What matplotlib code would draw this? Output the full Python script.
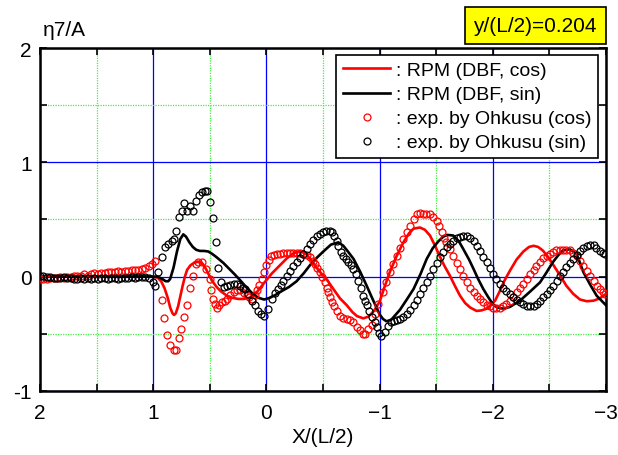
import matplotlib
matplotlib.use("Agg")
import matplotlib.pyplot as plt
from matplotlib.ticker import MultipleLocator, FixedLocator

plt.rcParams['font.family'] = ['Liberation Sans', 'DejaVu Sans']

# ---------------- data ----------------
# RPM (DBF, cos) line
rpm_cos_x = [2.0, 1.5, 1.2, 1.05, 1.0, 0.96, 0.93, 0.90, 0.87, 0.85, 0.83, 0.815, 0.80, 0.78, 0.76,
             0.74, 0.72, 0.70, 0.67, 0.64, 0.61, 0.587, 0.56, 0.53, 0.50, 0.47, 0.44, 0.40, 0.35,
             0.30, 0.25, 0.20, 0.15, 0.12, 0.08, 0.04, 0.0, -0.05, -0.12, -0.18, -0.24, -0.30,
             -0.35, -0.40, -0.45, -0.50, -0.53, -0.60, -0.65, -0.71, -0.76, -0.80, -0.856, -0.90,
             -0.95, -1.0, -1.04, -1.09, -1.15, -1.21, -1.26, -1.30, -1.357, -1.40, -1.445, -1.49,
             -1.53, -1.575, -1.62, -1.665, -1.71, -1.755, -1.80, -1.857, -1.90, -1.946, -2.02,
             -2.06, -2.10, -2.15, -2.21, -2.27, -2.32, -2.36, -2.40, -2.44, -2.475, -2.53, -2.594,
             -2.65, -2.71, -2.77, -2.83, -2.89, -2.945, -3.0]
rpm_cos_y = [0.0, 0.0, 0.0, 0.0, 0.0, -0.01, -0.04, -0.10, -0.19, -0.27, -0.32, -0.335, -0.32, -0.26,
             -0.17, -0.08, 0.0, 0.06, 0.10, 0.12, 0.13, 0.13, 0.11, 0.06, 0.0, -0.05, -0.09, -0.13,
             -0.166, -0.185, -0.195, -0.195, -0.185, -0.17, -0.13, -0.08, -0.03, 0.03, 0.10, 0.16,
             0.205, 0.22, 0.20, 0.14, 0.07, 0.01, -0.02, -0.12, -0.19, -0.25, -0.31, -0.345, -0.365,
             -0.35, -0.30, -0.22, -0.10, 0.04, 0.18, 0.30, 0.38, 0.42, 0.43, 0.41, 0.36, 0.27, 0.18,
             0.09, 0.01, -0.08, -0.166, -0.23, -0.27, -0.30, -0.295, -0.28, -0.21, -0.13, -0.04,
             0.05, 0.15, 0.22, 0.26, 0.27, 0.26, 0.23, 0.19, 0.11, 0.01, -0.08, -0.15, -0.20,
             -0.215, -0.21, -0.19, -0.15]

# RPM (DBF, sin) line
rpm_sin_x = [2.0, 1.5, 1.0, 0.96, 0.92, 0.89, 0.867, 0.85, 0.82, 0.79, 0.76, 0.734, 0.71, 0.68,
             0.65, 0.62, 0.587, 0.55, 0.513, 0.48, 0.44, 0.38, 0.33, 0.28, 0.233, 0.18, 0.12, 0.07,
             0.02, -0.03, -0.08, -0.12, -0.20, -0.267, -0.33, -0.385, -0.45, -0.503, -0.57, -0.636,
             -0.68, -0.72, -0.77, -0.83, -0.886, -0.94, -1.0, -1.03, -1.06, -1.10, -1.18, -1.24,
             -1.30, -1.36, -1.416, -1.47, -1.52, -1.563, -1.60, -1.65, -1.70, -1.74, -1.79, -1.83,
             -1.87, -1.916, -1.96, -2.0, -2.04, -2.09, -2.15, -2.24, -2.33, -2.417, -2.47, -2.53,
             -2.58, -2.62, -2.68, -2.74, -2.80, -2.86, -2.917, -2.96, -3.0]
rpm_sin_y = [0.0, 0.0, 0.0, 0.0, -0.02, -0.04, -0.04, -0.02, 0.08, 0.22, 0.33, 0.37, 0.35, 0.30,
             0.26, 0.235, 0.225, 0.225, 0.22, 0.20, 0.17, 0.12, 0.07, 0.02, -0.03, -0.09, -0.15,
             -0.185, -0.20, -0.185, -0.16, -0.135, -0.09, -0.04, 0.03, 0.10, 0.17, 0.22, 0.28, 0.30,
             0.27, 0.22, 0.155, 0.04, -0.08, -0.20, -0.33, -0.37, -0.39, -0.38, -0.29, -0.20,
             -0.108, 0.02, 0.155, 0.25, 0.31, 0.35, 0.365, 0.36, 0.31, 0.24, 0.15, 0.067, -0.02,
             -0.108, -0.18, -0.24, -0.27, -0.28, -0.265, -0.21, -0.13, -0.05, 0.03, 0.126, 0.19,
             0.23, 0.24, 0.20, 0.04, -0.07, -0.166, -0.21, -0.25]

# exp. by Ohkusu (cos)
exp_cos_x = [2.00, 1.97, 1.94, 1.91, 1.88, 1.85, 1.82, 1.79, 1.76, 1.73, 1.70, 1.67, 1.64, 1.61,
             1.58, 1.55, 1.52, 1.49, 1.46, 1.43, 1.40, 1.37, 1.34, 1.31, 1.28, 1.25, 1.22, 1.19,
             1.16, 1.13, 1.10, 1.07, 1.04, 1.01, 0.98, 0.925, 0.905, 0.875, 0.85, 0.82, 0.80,
             0.772, 0.75, 0.725, 0.70, 0.675, 0.65, 0.62, 0.60, 0.57, 0.533, 0.50, 0.49, 0.475,
             0.455, 0.44, 0.415, 0.39, 0.365, 0.35, 0.32, 0.29, 0.26, 0.233, 0.20, 0.174, 0.15,
             0.13, 0.105, 0.086, 0.065, 0.042, 0.02, 0.0, -0.022, -0.045, -0.07, -0.09, -0.12,
             -0.15, -0.18, -0.21, -0.237, -0.27, -0.297, -0.326, -0.355, -0.385, -0.41, -0.43,
             -0.45, -0.473, -0.495, -0.518, -0.535, -0.547, -0.562, -0.577, -0.595, -0.62, -0.65,
             -0.68, -0.71, -0.74, -0.768, -0.80, -0.827, -0.85, -0.875, -0.90, -0.93, -0.96,
             -0.99, -1.03, -1.06, -1.09, -1.12, -1.15, -1.18, -1.21, -1.24, -1.27, -1.30, -1.33,
             -1.357, -1.38, -1.41, -1.445, -1.475, -1.504, -1.525, -1.548, -1.57, -1.59, -1.62,
             -1.65, -1.68, -1.71, -1.74, -1.77, -1.80, -1.83, -1.86, -1.887, -1.915, -1.946,
             -1.975, -2.0, -2.03, -2.06, -2.09, -2.12, -2.15, -2.18, -2.21, -2.24, -2.27, -2.30,
             -2.33, -2.36, -2.385, -2.415, -2.445, -2.475, -2.505, -2.535, -2.56, -2.59, -2.62,
             -2.65, -2.68, -2.71, -2.74, -2.77, -2.80, -2.83, -2.86, -2.89, -2.917, -2.945,
             -2.97, -2.995]
exp_cos_y = [-0.02, -0.02, -0.02, -0.01, -0.01, -0.01, 0.00, -0.01, 0.00, 0.00, 0.01, 0.01, 0.01,
             0.02, 0.01, 0.02, 0.03, 0.02, 0.03, 0.03, 0.04, 0.04, 0.04, 0.05, 0.04, 0.05, 0.05,
             0.06, 0.06, 0.06, 0.07, 0.08, 0.09, 0.11, 0.14, -0.20, -0.36, -0.51, -0.60, -0.64,
             -0.64, -0.54, -0.46, -0.35, -0.25, -0.10, 0.01, 0.11, 0.13, 0.13, 0.07, -0.02, -0.12,
             -0.195, -0.24, -0.27, -0.25, -0.22, -0.21, -0.195, -0.16, -0.137, -0.12, -0.12, -0.14,
             -0.16, -0.18, -0.195, -0.16, -0.12, -0.07, -0.02, 0.04, 0.10, 0.15, 0.18, 0.19, 0.20,
             0.20, 0.205, 0.205, 0.21, 0.21, 0.21, 0.21, 0.20, 0.19, 0.17, 0.14, 0.11, 0.075,
             0.04, 0.0, -0.05, -0.095, -0.137, -0.18, -0.224, -0.26, -0.30, -0.34, -0.36, -0.37,
             -0.38, -0.40, -0.44, -0.47, -0.50, -0.50, -0.46, -0.42, -0.33, -0.24, -0.137, -0.05,
             0.04, 0.11, 0.18, 0.25, 0.33, 0.39, 0.446, 0.50, 0.55, 0.56, 0.55, 0.55, 0.55, 0.52,
             0.49, 0.44, 0.39, 0.34, 0.30, 0.24, 0.18, 0.12, 0.067, 0.01, -0.05, -0.095, -0.137,
             -0.17, -0.195, -0.225, -0.25, -0.26, -0.27, -0.27, -0.27, -0.26, -0.24, -0.21,
             -0.175, -0.137, -0.10, -0.06, -0.02, 0.02, 0.06, 0.096, 0.13, 0.16, 0.18, 0.20, 0.22,
             0.23, 0.235, 0.235, 0.235, 0.23, 0.21, 0.18, 0.14, 0.096, 0.05, 0.01, -0.035, -0.08,
             -0.11, -0.13, -0.15]

# exp. by Ohkusu (sin)
exp_sin_x = [2.00, 1.97, 1.94, 1.91, 1.88, 1.85, 1.82, 1.79, 1.76, 1.73, 1.70, 1.67, 1.64, 1.61,
             1.58, 1.55, 1.52, 1.49, 1.46, 1.43, 1.40, 1.37, 1.34, 1.31, 1.28, 1.25, 1.22, 1.19,
             1.16, 1.13, 1.10, 1.07, 1.04, 1.00, 0.985, 0.955, 0.925, 0.90, 0.867, 0.837, 0.816,
             0.80, 0.772, 0.743, 0.725, 0.699, 0.675, 0.651, 0.625, 0.595, 0.569, 0.545, 0.522,
             0.498, 0.475, 0.445, 0.425, 0.404, 0.375, 0.35, 0.32, 0.29, 0.26, 0.235, 0.21, 0.19,
             0.16, 0.13, 0.10, 0.072, 0.045, 0.02, -0.017, -0.047, -0.075, -0.105, -0.13, -0.15,
             -0.18, -0.208, -0.237, -0.267, -0.296, -0.326, -0.355, -0.385, -0.415, -0.445,
             -0.475, -0.503, -0.53, -0.56, -0.58, -0.60, -0.62, -0.635, -0.66, -0.68, -0.70,
             -0.723, -0.745, -0.768, -0.79, -0.812, -0.835, -0.856, -0.872, -0.886, -0.91, -0.93,
             -0.955, -0.975, -0.995, -1.01, -1.047, -1.075, -1.10, -1.13, -1.155, -1.18, -1.21,
             -1.24, -1.27, -1.30, -1.33, -1.357, -1.385, -1.416, -1.445, -1.475, -1.505, -1.534,
             -1.563, -1.593, -1.62, -1.65, -1.68, -1.71, -1.74, -1.77, -1.80, -1.83, -1.857,
             -1.887, -1.915, -1.946, -1.975, -2.0, -2.03, -2.06, -2.09, -2.12, -2.15, -2.18, -2.21,
             -2.24, -2.27, -2.30, -2.33, -2.36, -2.39, -2.417, -2.445, -2.476, -2.505, -2.534,
             -2.565, -2.594, -2.62, -2.65, -2.68, -2.71, -2.74, -2.77, -2.80, -2.83, -2.86, -2.89,
             -2.915, -2.945, -2.97, -2.99]
exp_sin_y = [0.01, 0.01, 0.00, 0.00, -0.01, -0.01, -0.01, 0.00, -0.01, -0.01, -0.02, -0.02, -0.01,
             -0.02, -0.01, -0.02, -0.01, -0.02, -0.01, -0.01, -0.02, -0.01, -0.01, -0.02, -0.01,
             -0.01, -0.01, 0.00, -0.01, 0.00, 0.00, 0.00, -0.01, -0.05, -0.08, 0.04, 0.175, 0.26,
             0.29, 0.315, 0.33, 0.40, 0.52, 0.57, 0.64, 0.575, 0.616, 0.57, 0.665, 0.71, 0.74,
             0.75, 0.75, 0.65, 0.51, 0.306, 0.08, -0.05, -0.09, -0.085, -0.07, -0.06, -0.065,
             -0.08, -0.10, -0.11, -0.15, -0.21, -0.25, -0.30, -0.33, -0.34, -0.28, -0.195, -0.14,
             -0.108, -0.07, -0.035, 0.01, 0.05, 0.09, 0.126, 0.16, 0.20, 0.245, 0.286, 0.32,
             0.353, 0.375, 0.39, 0.40, 0.40, 0.39, 0.36, 0.31, 0.27, 0.22, 0.184, 0.155, 0.126,
             0.10, 0.067, 0.02, -0.035, -0.10, -0.166, -0.21, -0.25, -0.30, -0.355, -0.40, -0.44,
             -0.49, -0.516, -0.486, -0.43, -0.40, -0.385, -0.375, -0.37, -0.35, -0.326, -0.29,
             -0.25, -0.20, -0.15, -0.10, -0.05, 0.01, 0.067, 0.12, 0.17, 0.215, 0.257, 0.29, 0.315,
             0.335, 0.345, 0.352, 0.353, 0.34, 0.315, 0.27, 0.227, 0.176, 0.126, 0.075, 0.024,
             -0.02, -0.064, -0.095, -0.122, -0.15, -0.18, -0.20, -0.224, -0.24, -0.254, -0.26,
             -0.26, -0.24, -0.21, -0.18, -0.15, -0.115, -0.08, -0.035, 0.01, 0.045, 0.082, 0.12,
             0.155, 0.19, 0.227, 0.25, 0.265, 0.275, 0.277, 0.255, 0.227, 0.21, 0.20]

x_ticks = [2, 1, 0, -1, -2, -3]
x_tick_labels = ['2', '1', '0', '\u22121', '\u22122', '\u22123']
y_ticks = [-1, 0, 1, 2]
y_tick_labels = ['-1', '0', '1', '2']
legend_labels = [': RPM (DBF, cos)', ': RPM (DBF, sin)',
                 ': exp. by Ohkusu (cos)', ': exp. by Ohkusu (sin)']

# ---------------- figure ----------------
fig = plt.figure(figsize=(6.18, 4.56), dpi=100)
ax = fig.add_axes([0.0647, 0.1404, 0.9159, 0.7521])

ax.set_xlim(2, -3)
ax.set_ylim(-1, 2)

ax.xaxis.set_major_locator(FixedLocator(x_ticks))
ax.yaxis.set_major_locator(FixedLocator(y_ticks))
ax.xaxis.set_minor_locator(MultipleLocator(0.5))
ax.yaxis.set_minor_locator(MultipleLocator(0.5))
ax.set_xticklabels(x_tick_labels, fontsize=15)
ax.set_yticklabels(y_tick_labels, fontsize=15)

ax.grid(which='major', color='#0000ff', linewidth=0.9, linestyle='-')
ax.grid(which='minor', color='#44ee44', linewidth=0.9, linestyle=(0, (1, 1)))
ax.set_axisbelow(True)

ax.tick_params(which='both', direction='in', top=True, right=True, length=5, width=1.2,
               colors='black')
ax.tick_params(axis='x', which='major', pad=9)
ax.tick_params(axis='y', which='major', pad=6)
for s in ax.spines.values():
    s.set_linewidth(1.8)

l1, = ax.plot(rpm_cos_x, rpm_cos_y, color='red', lw=1.9, zorder=3)
l2, = ax.plot(rpm_sin_x, rpm_sin_y, color='black', lw=1.9, zorder=3)
m1, = ax.plot(exp_cos_x, exp_cos_y, 'o', ms=5, mfc='none', mec='red', mew=0.9, zorder=4)
m2, = ax.plot(exp_sin_x, exp_sin_y, 'o', ms=5, mfc='none', mec='black', mew=0.9, zorder=4)

leg = ax.legend([l1, l2, m1, m2], legend_labels, loc='upper right',
                bbox_to_anchor=(0.986, 0.98), fontsize=14, frameon=True, fancybox=False,
                edgecolor='black', framealpha=1, handlelength=2.4, handletextpad=0.3,
                borderpad=0.35, labelspacing=0.33, borderaxespad=0.0)
leg.get_frame().set_linewidth(1.2)

ax.set_xlabel('X/(L/2)', fontsize=15, labelpad=3)
fig.text(0.069, 0.934, '\u03b77/A', fontsize=15, ha='left', va='center')

fig.text(0.866, 0.942, 'y/(L/2)=0.204', fontsize=15, ha='center', va='center',
         bbox=dict(boxstyle='square,pad=0.42', facecolor='#ffff00', edgecolor='black',
                   linewidth=1.2))

fig.savefig('out.png', dpi=100)
